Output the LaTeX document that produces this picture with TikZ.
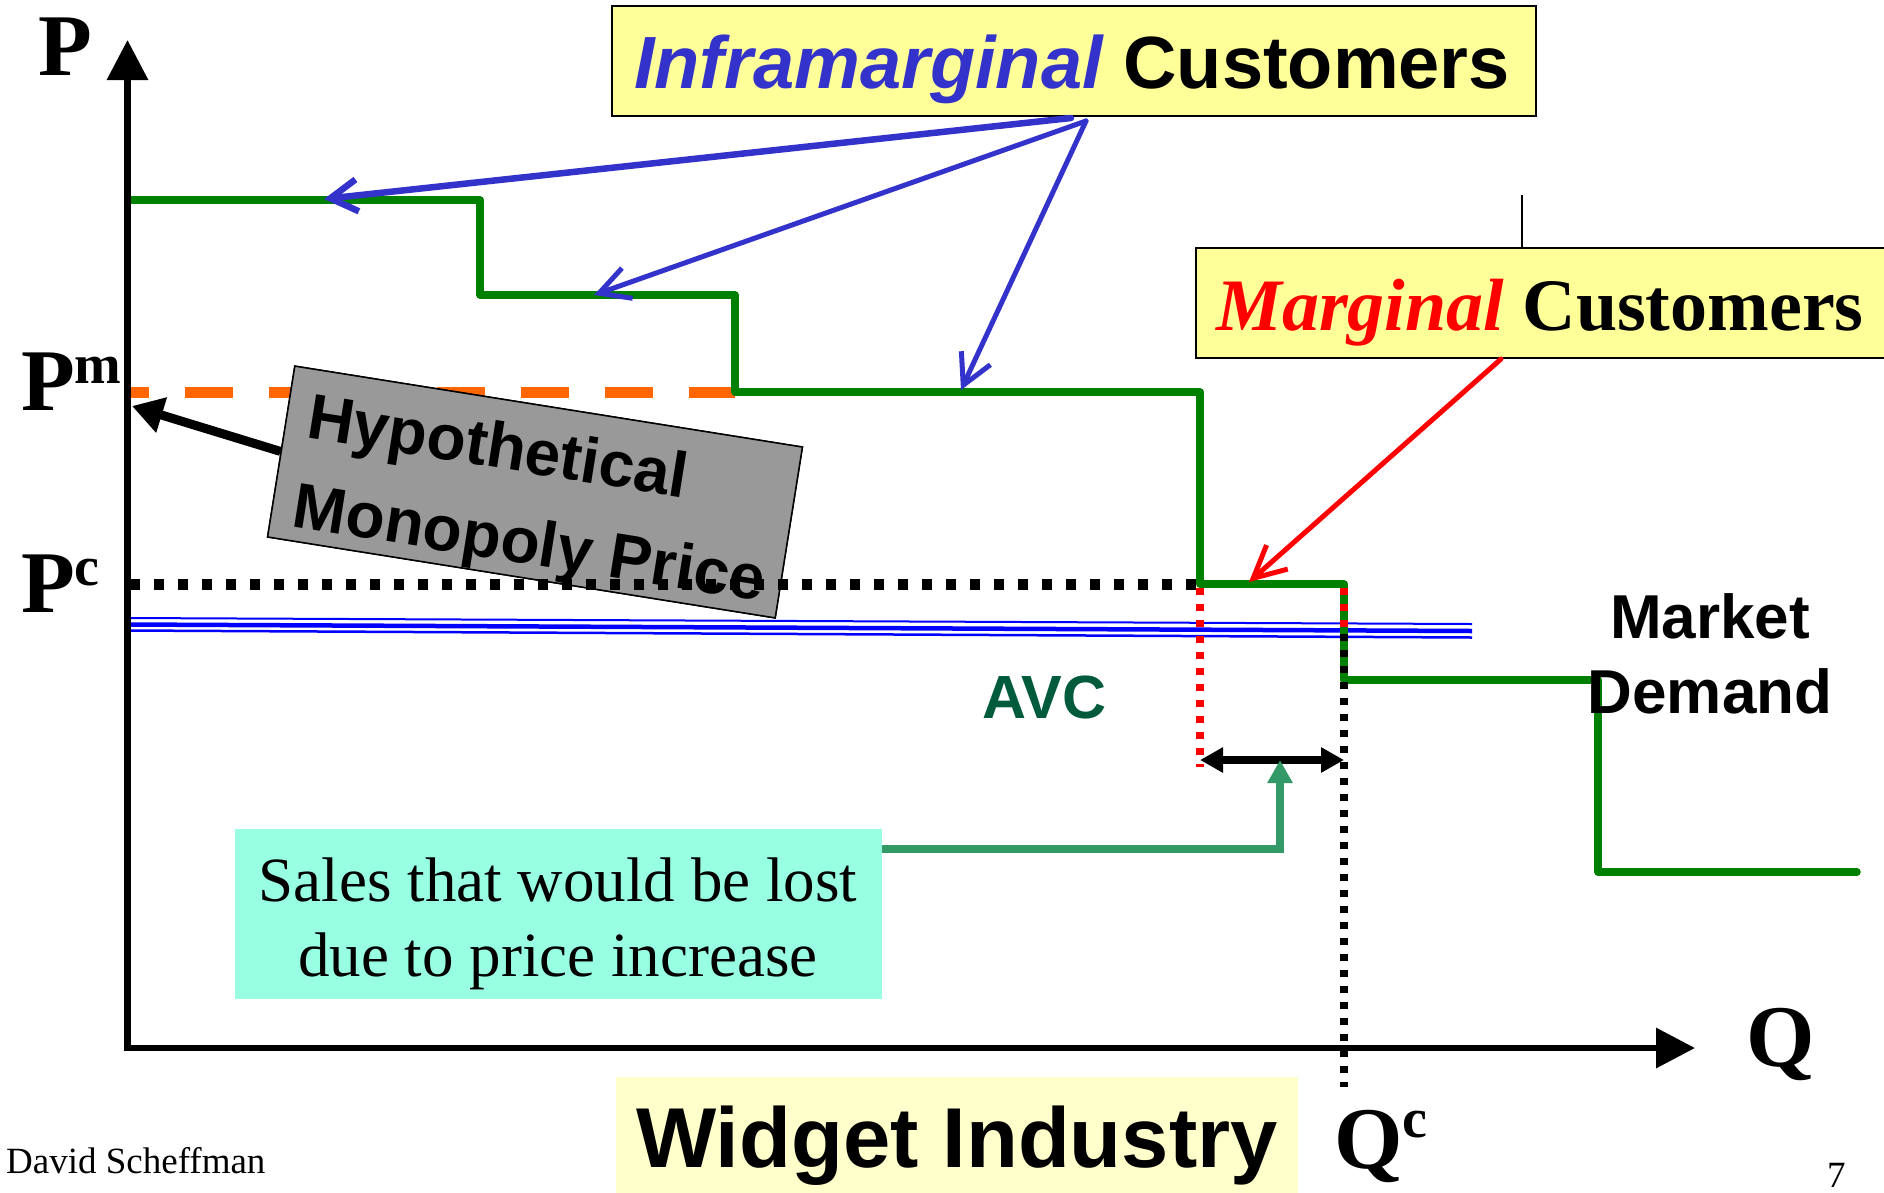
\documentclass[tikz,border=0pt]{standalone}
\usepackage{fontspec}
\setmainfont{Liberation Serif}
\setsansfont{Liberation Sans}
\usetikzlibrary{arrows.meta,calc}

\definecolor{demandgreen}{RGB}{0,128,0}
\definecolor{monoorange}{RGB}{255,102,0}
\definecolor{infrablue}{RGB}{51,51,204}
\definecolor{noteyellow}{RGB}{255,255,153}
\definecolor{paleyellow}{RGB}{255,255,204}
\definecolor{aqua}{RGB}{153,255,227}
\definecolor{boxgrey}{RGB}{153,153,153}
\definecolor{seagreen}{RGB}{51,153,102}
\definecolor{avcgreen}{RGB}{0,90,60}
\definecolor{avcblue}{RGB}{0,0,255}

\begin{document}
\begin{tikzpicture}[x=1pt,y=-1pt,
  axislabel/.style={inner sep=0pt, anchor=base west,
    font=\fontsize{88}{88}\selectfont\bfseries},
  notebox/.style={draw=black, line width=2pt, fill=noteyellow, inner sep=0pt},
  hypbox/.style={draw=black, line width=1.5pt, fill=boxgrey, rotate=-9.06,
    minimum width=514pt, minimum height=173pt, inner sep=0pt},
  hyptext/.style={inner sep=0pt, anchor=base west, rotate=-9.06,
    font=\fontsize{64}{64}\selectfont\sffamily\bfseries},
  bigsans/.style={inner sep=0pt, font=\fontsize{74}{74}\selectfont\sffamily\bfseries},
  demand/.style={draw=demandgreen, line width=7.5pt, line cap=round, line join=round},
  infraarrow/.style={draw=infrablue, line width=5pt, line cap=round, line join=round,
    -{Straight Barb[length=30pt,width=32pt]}},
  guide/.style={line width=8pt, dash pattern=on 7pt off 9pt},
  serifnote/.style={inner sep=0pt, anchor=base, font=\fontsize{63}{63}\selectfont},
  small/.style={inner sep=0pt, anchor=base west, font=\fontsize{37}{37}\selectfont}
]
\useasboundingbox (0,0) rectangle (1884,1192);
\fill[white] (0,0) rectangle (1884,1192);

% named points of the chart
\coordinate (ytip) at (127.5,40);
\coordinate (origin) at (127.5,1048);
\coordinate (xtip) at (1695,1048);
\coordinate (pmtip) at (132,406);
\coordinate (t1) at (324,199);
\coordinate (t2) at (594,295);
\coordinate (t3) at (961,390);
\coordinate (t4) at (1249,582);
\coordinate (lossL) at (1200,760);
\coordinate (lossR) at (1344,760);
\coordinate (lossUp) at (1280,760);
\coordinate (stub) at (1522,195);

% monopoly price level
\draw[monoorange, line width=11pt, dash pattern=on 48pt off 36pt, dash phase=27pt]
  (127.5,392) -- (735,392);

% label box for the monopoly price
\node[hypbox] (hyp) at (535,492) {};
\draw[line width=9pt, -{Triangle[length=31pt,width=35pt]}] (hyp.west) -- (pmtip);
\node[hypbox] (hypcover) at (535,492) {};
\node[hyptext] (hyp1) at (304.8,437.4) {Hypothetical};
\node[hyptext] (hyp2) at (290.7,526.3) {Monopoly Price};

% average variable cost
\draw[avcblue, line width=2pt] (127.5,618) -- (1472,624);
\draw[avcblue, line width=4.5pt] (127.5,624.5) -- (1472,631);
\draw[avcblue, line width=2.5pt] (127.5,630.5) -- (1472,637.5);

% stepped market demand
\draw[demand] (127.5,200) -- (480,200) -- (480,295) -- (735,295) -- (735,392)
  -- (1200,392) -- (1200,584) -- (1344,584) -- (1344,680) -- (1598,680)
  -- (1598,872) -- (1857,872);

% competitive price level
\draw[black, line width=11pt, dash pattern=on 10pt off 14pt] (130,584) -- (1200,584);

% quantity guides
\draw[guide, red] (1200,588) -- (1200,767);
\draw[guide, red] (1344,588) -- (1344,630);
\draw[guide, black] (1344,634) -- (1344,1087);

% lost sales span
\draw[line width=8pt, {Triangle[length=23pt,width=24pt]}-{Triangle[length=23pt,width=24pt]}]
  (lossL) -- (lossR);

% note on lost sales
\node[fill=aqua, minimum width=647pt, minimum height=170pt, inner sep=0pt]
  (sales) at (558.5,914) {};
\node[serifnote] (sales1) at (558,901) {Sales that would be lost};
\node[serifnote] (sales2) at (558,976) {due to price increase};
\draw[seagreen, line width=7.5pt, -{Triangle[length=23pt,width=24pt]}]
  ($(sales.north east)+(0,20)$) -| (lossUp);

% axes
\draw[line width=6.5pt, line join=miter,
  {Triangle[length=40pt,width=40pt]}-{Triangle[length=39pt,width=39pt]}]
  (ytip) -- (origin) -- (xtip);

% customer call-outs
\node[notebox, minimum width=924pt, minimum height=110pt] (infra) at (1074,61) {};
\node[bigsans, anchor=base] (infratxt) at (1072,88)
  {\textcolor{infrablue}{\itshape Inframarginal} Customers};
\draw[infraarrow, line width=6.5pt, -{Straight Barb[length=27pt,width=32pt]}]
  ($(infra.south west)+(460,1)$) -- (t1);
\draw[infraarrow] ($(infra.south west)+(475,4)$) -- (t2);
\draw[infraarrow] ($(infra.south west)+(475,4)$) -- (t3);

\node[notebox, minimum width=694pt, minimum height=110pt] (marg) at (1543,303) {};
\draw[line width=1.5pt] (stub) -- (stub |- marg.north);
\node[inner sep=0pt, anchor=base west, font=\fontsize{74}{74}\selectfont\bfseries]
  (margtxt) at (1216,330) {\textcolor{red}{\itshape Marginal} Customers};
\draw[red, line width=5pt, line cap=round, line join=round,
  -{Straight Barb[length=32pt,width=32pt]}] ($(marg.south west)+(306,0)$) -- (t4);

% axis and curve labels
\node[axislabel] (plab) at (38,75) {P};
\node[axislabel] (pmlab) at (21,410) {P\raisebox{27pt}{\fontsize{56}{56}\selectfont m}};
\node[axislabel] (pclab) at (21,612) {P\raisebox{27pt}{\fontsize{56}{56}\selectfont c}};
\node[axislabel] (qlab) at (1746,1066) {Q};
\node[axislabel] (qclab) at (1334,1168) {Q\raisebox{31pt}{\fontsize{56}{56}\selectfont c}};

\node[inner sep=0pt, anchor=base west, text=avcgreen,
  font=\fontsize{61}{61}\selectfont\sffamily\bfseries] (avc) at (982,718) {AVC};
\node[inner sep=0pt, anchor=base, font=\fontsize{62}{62}\selectfont\sffamily\bfseries]
  (mkt1) at (1710,638) {Market};
\node[inner sep=0pt, anchor=base, font=\fontsize{62}{62}\selectfont\sffamily\bfseries]
  (mkt2) at (1710,713) {Demand};

% industry title and footer
\node[fill=paleyellow, minimum width=682pt, minimum height=118pt, inner sep=0pt]
  (widgetbox) at (957,1136) {};
\node[inner sep=0pt, anchor=base, font=\fontsize{85}{85}\selectfont\sffamily\bfseries]
  (widget) at (957,1167) {Widget Industry};
\node[small] (author) at (6,1173) {David Scheffman};
\node[small] (page) at (1827,1187) {7};
\end{tikzpicture}
\end{document}
